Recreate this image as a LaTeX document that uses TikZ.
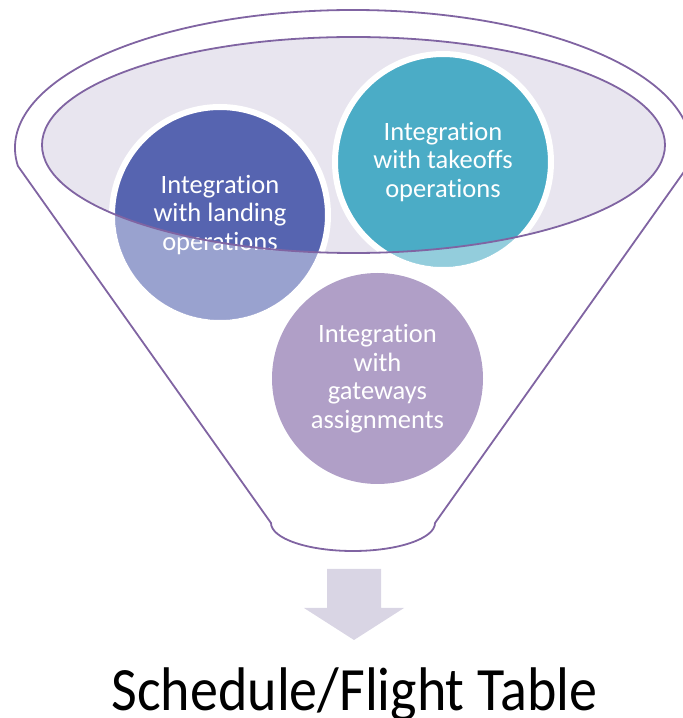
\documentclass[tikz,border=0pt]{standalone}
\usepackage{fontspec}
\setmainfont{Carlito}[Ligatures={NoCommon}]
\usetikzlibrary{shapes.geometric}
\definecolor{funnelline}{HTML}{8064A2}
\definecolor{innerfill}{HTML}{E8E5EF}
\definecolor{landcol}{HTML}{5664B0}
\definecolor{takecol}{HTML}{4BACC6}
\definecolor{gatecol}{HTML}{B09FC7}
\definecolor{arrowcol}{HTML}{D9D5E4}
\begin{document}
\begin{tikzpicture}[x=1pt,y=1pt,
  outline/.style={draw=funnelline, line width=1.8pt},
  bubble/.style={circle, minimum size=216pt, inner sep=0pt, align=center,
    text=white, draw=white, line width=6pt,
    font=\fontsize{26.5}{28.5}\selectfont},
  bubbleplain/.style={circle, minimum size=211pt, inner sep=0pt, align=center,
    text=white, font=\fontsize{26.5}{28.5}\selectfont},
  titletext/.style={font=\fontsize{56}{60}\selectfont, text=black, inner sep=0pt},
]
\useasboundingbox (0,0) rectangle (683,718);
% funnel outline
\coordinate (lc) at (17.9,552);
\coordinate (rc) at (688.1,552);
\coordinate (br) at (435,195);
\coordinate (bl) at (271,195);
\path[outline] (lc) arc[start angle=187.5, end angle=-7.5, x radius=338, y radius=138]
  -- (br) arc[start angle=0, end angle=-180, x radius=82, y radius=28] -- (lc);
% inner rim
\node[ellipse, fill=innerfill, minimum width=623pt, minimum height=216pt, inner sep=0pt] (rim) at (353.5,573) {};
% bubbles
\node[bubble, fill=landcol] (land) at (220,503) {};
\node[bubble, fill=takecol] (take) at (443,556) {};
\node[bubbleplain, fill=gatecol] (gate) at (377.5,339.5) {};
% lighten parts below the rim
\begin{scope}
  \clip (land.center) circle (105) (take.center) circle (105);
  \fill[white, opacity=0.4, even odd rule] (0,0) rectangle (683,718)
    (rim.center) ellipse [x radius=311.5, y radius=108];
\end{scope}
% texts
\node[bubbleplain] (landtext) at (land.center) {Integration\\with landing\\operations};
\node[bubbleplain] (taketext) at (take.center) {Integration\\with takeoffs\\operations};
\node[bubbleplain] (gatetext) at (gate.center) {Integration\\with\\gateways\\assignments};
% rim outline on top
\path[outline] (rim.center) ellipse [x radius=311.5, y radius=108];
% arrow
\fill[arrowcol] (327,149) -- (381,149) -- (381,110) -- (404,110) -- (354,78)
  -- (304,110) -- (327,110) -- cycle;
% title
\node[titletext, anchor=base] (title) at (354.5,7) {\scalebox{1}[1.1]{Schedule/Flight Table}};
\end{tikzpicture}
\end{document}
